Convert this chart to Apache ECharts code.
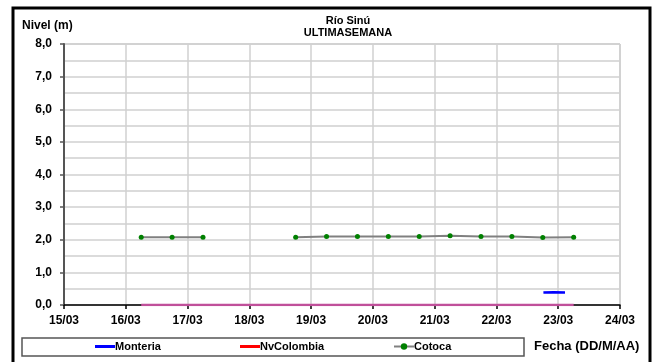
<!DOCTYPE html>
<html><head><meta charset="utf-8">
<script src="https://cdn.jsdelivr.net/npm/echarts@6/dist/echarts.min.js"></script>
<style>html,body{margin:0;padding:0;background:#fff}#c{width:655px;height:362px}</style>
</head><body><div id="c"></div>
<script>
// x values = day of March (fractional day)
const xTicks = ['15/03','16/03','17/03','18/03','19/03','20/03','21/03','22/03','23/03','24/03'];
const cotocaDays = [16.25,16.75,17.25,17.75,18.25,18.75,19.25,19.75,20.25,20.75,21.25,21.75,22.25,22.75,23.25];
const cotocaLevel = [2.08,2.08,2.08,'-','-',2.08,2.10,2.10,2.10,2.10,2.12,2.10,2.10,2.07,2.08];
const nvDays = [16.25,23.25];
const nvLevel = [0,0];
const monteriaDays = [22.76,22.93,23.11];
const monteriaLevel = [0.38,0.39,0.38];

const F = 'Liberation Sans, Arial, sans-serif';
const zip = (a,b)=>a.map((v,i)=>[v,b[i]]);
const chart = echarts.init(document.getElementById('c'),null,{renderer:'canvas'});
const lab = v => v.toFixed(1).replace('.',',');
const legTxt = {fontFamily:F,fontSize:11,fontWeight:'bold',color:'#000',padding:[0,0,0,-5]};
chart.setOption({
  animation:false,
  backgroundColor:'#fff',
  title:{text:'Río Sinú\nULTIMASEMANA',left:343,top:10,textAlign:'center',
    textStyle:{fontFamily:F,fontSize:11,fontWeight:'bold',color:'#000',lineHeight:12}},
  grid:{left:64,right:35,top:44,bottom:57,show:true,borderColor:'#b0b0b0',borderWidth:1},
  xAxis:{type:'value',min:15,max:24,interval:1,
    axisLine:{onZero:false,lineStyle:{color:'#000',width:1.5}},
    axisTick:{show:true,length:4,lineStyle:{color:'#000',width:1.5}},
    axisLabel:{fontFamily:F,fontSize:12,fontWeight:'bold',color:'#000',margin:10,
      formatter:v=>xTicks[Math.round(v-15)]},
    splitLine:{show:true,lineStyle:{color:'#d0d0d0',width:1.5}}},
  yAxis:{type:'value',min:0,max:8,interval:1,
    name:'Nivel (m)',nameLocation:'end',nameGap:12,
    nameTextStyle:{fontFamily:F,fontSize:12,fontWeight:'bold',color:'#000',align:'left',padding:[0,0,0,-42]},
    axisLine:{show:true,lineStyle:{color:'#555',width:2}},
    axisTick:{show:true,length:4,lineStyle:{color:'#555',width:1.5}},
    axisLabel:{fontFamily:F,fontSize:12,fontWeight:'bold',color:'#000',margin:12,formatter:lab},
    splitLine:{show:true,lineStyle:{color:'#d0d0d0',width:1.5}},
    minorTick:{show:false,splitNumber:2},
    minorSplitLine:{show:true,lineStyle:{color:'#d0d0d0',width:1.5}}},
  legend:[
    {left:90,top:336,data:[{name:'Monteria',icon:'rect',itemStyle:{color:'#0000ff'}}],
     itemWidth:20,itemHeight:3,textStyle:legTxt},
    {left:235,top:336,data:[{name:'NvColombia',icon:'rect',itemStyle:{color:'#ff0000'}}],
     itemWidth:20,itemHeight:3,textStyle:legTxt},
    {left:388,top:336,data:[{name:'Cotoca'}],itemWidth:20,itemHeight:8,textStyle:legTxt}
  ],
  graphic:[
    {type:'rect',shape:{x:13,y:8,width:637,height:360},style:{fill:'none',stroke:'#000',lineWidth:3},silent:true},
    {type:'rect',shape:{x:22,y:338,width:502,height:18},style:{fill:'none',stroke:'#555',lineWidth:1.5},silent:true},
    {type:'text',left:534,top:340,style:{text:'Fecha (DD/M/AA)',fontFamily:F,fontSize:13,fontWeight:'bold',fill:'#000'}}
  ],
  series:[
    {name:'Monteria',type:'line',data:zip(monteriaDays,monteriaLevel),symbol:'none',
     lineStyle:{color:'#0000ff',width:2.5},itemStyle:{color:'#0000ff'},z:4},
    {name:'NvColombia',type:'line',data:zip(nvDays,nvLevel),symbol:'none',
     lineStyle:{color:'#c0509a',width:2.5},itemStyle:{color:'#ff0000'},z:3},
    {name:'Cotoca',type:'line',data:zip(cotocaDays,cotocaLevel),connectNulls:false,
     symbol:'circle',symbolSize:5,showSymbol:true,
     lineStyle:{color:'#808080',width:2},itemStyle:{color:'#008000',borderWidth:0},z:5}
  ]
});
</script></body></html>
